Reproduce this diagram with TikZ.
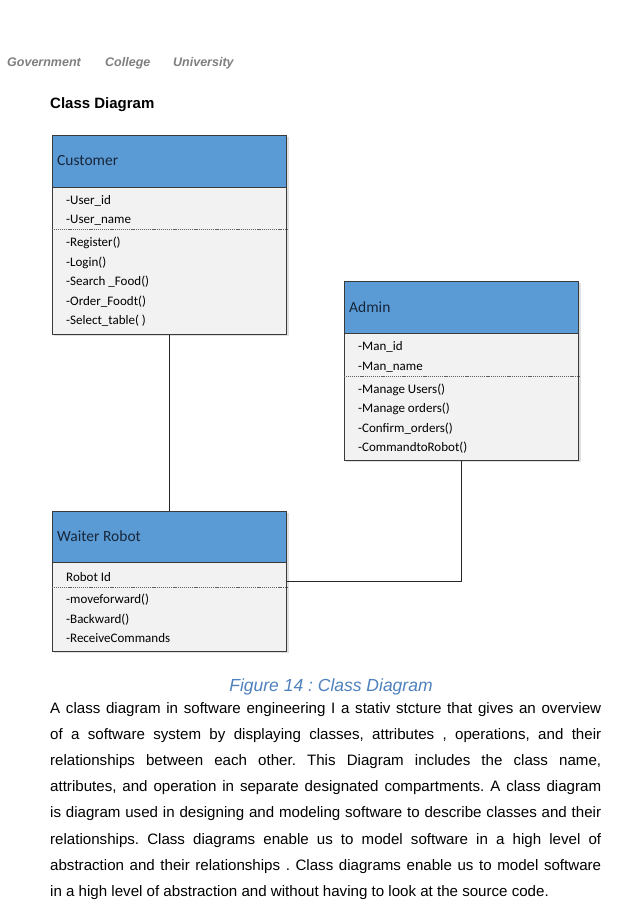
\documentclass[tikz,border=0pt]{standalone}
\usepackage{fontspec}
\setmainfont{Liberation Sans}
\newfontfamily\calib{Carlito}
\usetikzlibrary{calc}
\definecolor{hdrblue}{HTML}{5B9BD5}
\definecolor{bodygray}{HTML}{F2F2F2}
\definecolor{edgecol}{HTML}{3A3A3A}
\definecolor{hdrtext}{HTML}{17263A}
\definecolor{capblue}{HTML}{4F81BD}
\definecolor{unigray}{HTML}{7F7F7F}
\tikzset{
  hdr/.style={draw=edgecol, fill=hdrblue, line width=0.9pt, minimum width=234.5pt, anchor=north west, inner sep=0pt},
  bdy/.style={draw=edgecol, fill=bodygray, line width=0.9pt, minimum width=234.5pt, anchor=north west, inner sep=0pt},
  shd/.style={fill=black, opacity=0.12},
  ctitle/.style={anchor=west, inner sep=0pt, font=\calib\fontsize{15.5}{18}\selectfont, text=hdrtext},
  mem/.style={anchor=base west, inner sep=0pt, align=left, font=\calib\fontsize{13}{19.5}\selectfont, text=black},
  sepline/.style={draw=edgecol!80, line width=1pt, dash pattern=on 1.2pt off 0.9pt},
  conn/.style={draw=black!85, line width=1.2pt},
  uni/.style={anchor=base west, inner sep=0pt, font=\bfseries\itshape\fontsize{12.5}{15}\selectfont, text=unigray},
}
\frenchspacing
\begin{document}
\begin{tikzpicture}[x=1pt,y=-1pt]
\useasboundingbox (0,0) rectangle (640,923);
\fill[white] (0,0) rectangle (640,923);

% page header
\node[uni] (g1) at (7,67) {Government};
\node[uni] (g2) at (105,67) {College};
\node[uni] (g3) at (173,67) {University};
\node[anchor=base west, inner sep=0pt, font=\bfseries\fontsize{15}{18}\selectfont] (ttl) at (50,109) {Class Diagram};

% shadows
\fill[shd] (53.5,137) rectangle (288.5,336);
\fill[shd] (345.5,283) rectangle (580.5,462);
\fill[shd] (53.5,512.5) rectangle (288.5,652.5);

% Customer
\node[hdr, minimum height=51.5pt] (custH) at (51.5,135) {};
\node[ctitle] (custT) at (57,161) {Customer};
\node[bdy, minimum height=147pt] (custB) at (custH.south west) {};
\draw[sepline] (custB.west |- 0,229.3) -- (custB.east |- 0,229.3);
\node[mem] (custA) at (66,223.5) {-User\_id\\-User\_name};
\node[mem] (custO) at (66,324.5) {-Register()\\-Login()\\-Search \_Food()\\-Order\_Foodt()\\-Select\_table( )};

% Admin
\node[hdr, minimum height=51.5pt] (admH) at (343.5,281) {};
\node[ctitle] (admT) at (349,307) {Admin};
\node[bdy, minimum height=127pt] (admB) at (admH.south west) {};
\draw[sepline] (admB.west |- 0,376) -- (admB.east |- 0,376);
\node[mem] (admA) at (358,370) {-Man\_id\\-Man\_name};
\node[mem] (admO) at (358,451.5) {-Manage Users()\\-Manage orders()\\-Confirm\_orders()\\-CommandtoRobot()};

% Waiter Robot
\node[hdr, minimum height=51pt] (waitH) at (51.5,510.5) {};
\node[ctitle] (waitT) at (57,536) {Waiter Robot};
\node[bdy, minimum height=88.5pt] (waitB) at (waitH.south west) {};
\draw[sepline] (waitB.west |- 0,587) -- (waitB.east |- 0,587);
\node[mem] (waitA) at (66,581) {Robot Id};
\node[mem] (waitO) at (66,642.5) {-moveforward()\\-Backward()\\-ReceiveCommands};

% connectors
\coordinate (wr) at ($(waitB.north east)+(0,19)$);
\draw[conn] (custB.south) -- (waitH.north);
\draw[conn] (admB.south) |- (wr);

% caption
\node[anchor=base, inner sep=0pt, font=\itshape\fontsize{17.5}{20}\selectfont, text=capblue] (cap) at (331,691) {Figure 14 : Class Diagram};

% paragraph
\node[anchor=base west, inner sep=0pt, text width=551pt, align=justify, font=\fontsize{15.1}{26.2}\selectfont] (para) at (50,713) {A class diagram in software engineering I a stativ stcture that gives an overview\linebreak
of a software system by displaying classes, attributes , operations, and their\linebreak
relationships between each other. This Diagram includes the class name,\linebreak
attributes, and operation in separate designated compartments. A class diagram\linebreak
is diagram used in designing and modeling software to describe classes and their\linebreak
relationships. Class diagrams enable us to model software in a high level of\linebreak
abstraction and their relationships . Class diagrams enable us to model software\linebreak
in a high level of abstraction and without having to look at the source code.};
\end{tikzpicture}
\end{document}
